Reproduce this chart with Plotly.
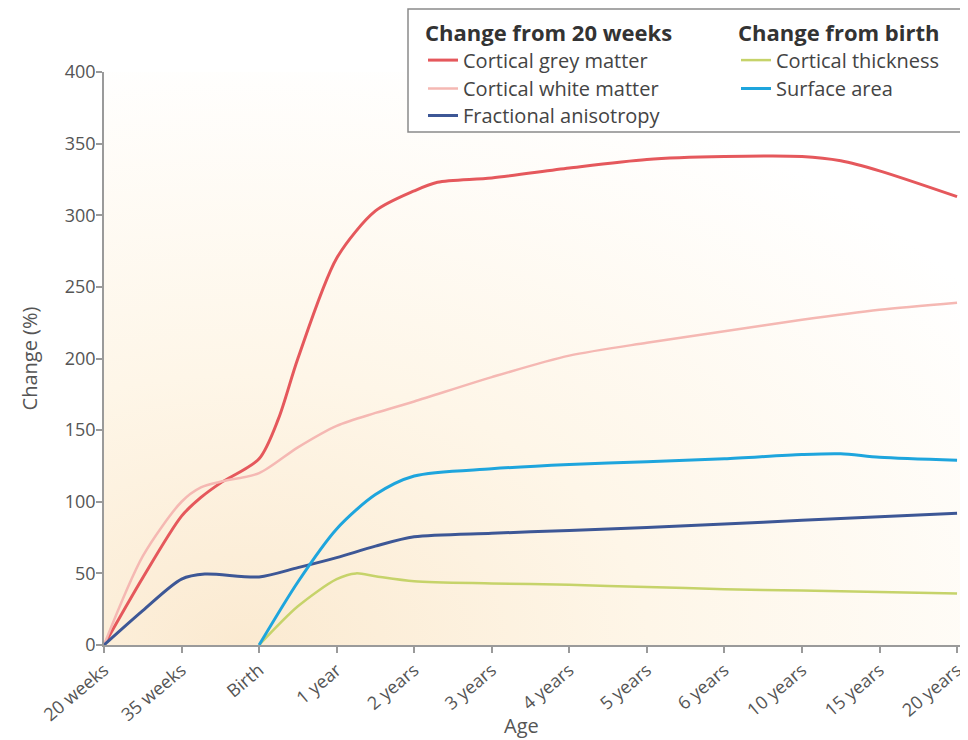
import base64
import plotly.graph_objects as go

# ---------------- data ----------------
x_labels = ["20 weeks", "35 weeks", "Birth", "1 year", "2 years", "3 years",
            "4 years", "5 years", "6 years", "10 years", "15 years", "20 years"]
x_ticks = list(range(len(x_labels)))

grey_x = [0, 0.5, 1, 1.25, 1.5, 2, 2.25, 2.5, 3, 3.5, 4, 4.3, 5, 6, 7, 8, 9, 9.5, 10, 11]
grey_y = [0, 47, 90, 103, 113, 130, 158, 200, 270, 303, 317, 323, 326, 333, 339, 341, 341, 338, 331, 313]

white_x = [0, 0.5, 1, 1.25, 1.5, 2, 2.5, 3, 3.5, 4, 5, 6, 7, 8, 9, 10, 11]
white_y = [0, 62, 100, 110, 114, 120, 138, 153, 162, 170, 187, 202, 211, 219, 227, 234, 239]

fa_x = [0, 0.5, 1, 1.3, 2, 2.5, 3, 3.5, 4, 5, 6, 7, 8, 9, 10, 11]
fa_y = [0, 24, 46, 49.5, 47.5, 54, 61, 69, 75.5, 78, 80, 82, 84.5, 87, 89.5, 92]

thick_x = [2, 2.5, 3, 3.25, 3.5, 4, 5, 6, 7, 8, 9, 10, 11]
thick_y = [0, 27, 46, 50, 48, 44.5, 43, 42, 40.5, 39, 38, 37, 36]

surf_x = [2, 2.5, 3, 3.5, 4, 5, 6, 7, 8, 9, 9.5, 10, 11]
surf_y = [0, 44, 81, 105, 118, 123, 126, 128, 130, 133, 133.5, 131, 129]

y_ticks = [0, 50, 100, 150, 200, 250, 300, 350, 400]

# ---------------- styling ----------------
FONT = "'Open Sans', Lato, sans-serif"
OFF = 8                      # default page margin of the html body
W, H = 968 - OFF, 740 - OFF
L, R, T, B = 96, 2, 64, 95
PW, PH = W - L - R, H - T - B

def px_x(p):  # reference page pixel -> paper x
    return (p - OFF - L) / PW

def px_y(p):  # reference page pixel -> paper y
    return (H - B - (p - OFF)) / PH

fig = go.Figure()

series = [
    ("Cortical grey matter", grey_x, grey_y, "#E5585C", 3, "legend"),
    ("Cortical white matter", white_x, white_y, "#F5B8B3", 2.5, "legend3"),
    ("Fractional anisotropy", fa_x, fa_y, "#3D5796", 3, "legend4"),
    ("Cortical thickness", thick_x, thick_y, "#C6D36A", 2.5, "legend2"),
    ("Surface area", surf_x, surf_y, "#1EA5DD", 3, "legend5"),
]
for name, xs, ys, col, w, lg in series:
    fig.add_trace(go.Scatter(
        x=xs, y=ys, name=name, mode="lines",
        line=dict(color=col, width=w, shape="spline", smoothing=0.8),
        legend=lg, hoverinfo="name+y", showlegend=True,
    ))

svg = ('<svg xmlns="http://www.w3.org/2000/svg" width="200" height="200" '
       'viewBox="0 0 200 200" preserveAspectRatio="none"><defs>'
       '<radialGradient id="g" cx="0.16" cy="1" r="1.05">'
       '<stop offset="0" stop-color="#FBEAD1"/>'
       '<stop offset="0.45" stop-color="#FEF6E8"/>'
       '<stop offset="1" stop-color="#FFFFFF"/>'
       '</radialGradient></defs>'
       '<rect width="200" height="200" fill="url(#g)"/></svg>')
svg_uri = "data:image/svg+xml;base64," + base64.b64encode(svg.encode()).decode()

axis_col = "#9a9a9a"
tick_font = dict(family=FONT, size=18, color="#555555")
title_font = dict(family=FONT, size=20, color="#555555")
item_font = dict(family=FONT, size=20, color="#444444")
head_font = dict(family=FONT, size=22, color="#333333")


def leg(x_ref, y_ref, title=None):
    d = dict(x=px_x(x_ref), y=px_y(y_ref), xanchor="left", yanchor="top",
             font=item_font, bgcolor="rgba(0,0,0,0)", borderwidth=0,
             itemwidth=30, tracegroupgap=0, traceorder="normal", visible=True)
    if title:
        d["title"] = dict(text="<b>" + title + "</b>", font=head_font)
    return d


fig.update_layout(
    width=W, height=H,
    showlegend=True,
    margin=dict(l=L, r=R, t=T, b=B, autoexpand=False),
    paper_bgcolor="white",
    plot_bgcolor="rgba(0,0,0,0)",
    font=dict(family=FONT, color="#444444"),
    images=[dict(source=svg_uri, xref="paper", yref="paper", x=0, y=1,
                 sizex=1, sizey=1, sizing="stretch", xanchor="left",
                 yanchor="top", layer="below")],
    xaxis=dict(
        range=[0, PW / 77.55], tickmode="array", tickvals=x_ticks,
        ticktext=x_labels, tickangle=-40, ticks="outside", ticklen=6,
        tickcolor=axis_col, tickwidth=1.5, showline=True, linecolor=axis_col,
        linewidth=1.5, showgrid=False, zeroline=False, tickfont=tick_font,
        automargin=False, fixedrange=True,
    ),
    yaxis=dict(
        range=[0, 400], tickmode="array", tickvals=y_ticks, ticks="outside",
        ticklen=6, tickcolor=axis_col, tickwidth=1.5, showline=True,
        linecolor=axis_col, linewidth=1.5, showgrid=False, zeroline=False,
        tickfont=tick_font, ticklabelstandoff=-3,
        title=dict(text="Change (%)", font=title_font, standoff=22),
        automargin=False, fixedrange=True,
    ),
    annotations=[dict(text="Age", xref="paper", yref="paper",
                      x=px_x(521), y=px_y(710), xanchor="center", yanchor="top",
                      showarrow=False, font=title_font)],
    legend=leg(423, 12, "Change from 20 weeks"),
    legend3=leg(423, 69),
    legend4=leg(423, 96),
    legend2=leg(736, 12, "Change from birth"),
    legend5=leg(736, 69),
    shapes=[dict(type="rect", xref="paper", yref="paper",
                 x0=px_x(408), x1=px_x(966), y0=px_y(132), y1=px_y(9),
                 line=dict(color="#8a8a8a", width=1.5), fillcolor="white",
                 layer="above")],
)

fig.write_html("out.html")
